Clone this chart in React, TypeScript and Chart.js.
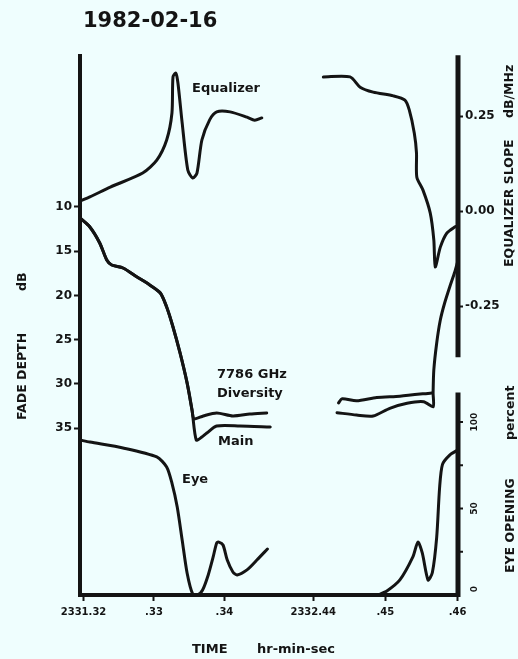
import React, { useEffect, useRef } from "react";
import { Chart, registerables } from "chart.js";

Chart.register(...registerables);

const INK = "#141414";
const PAPER = "#effefe";
const FONT = "DejaVu Sans";

const TITLE = "1982-02-16";

// Time axis (seconds); left panel is 23:31, right panel is 23:32, with a break between them.
const timeTicks = [32, 33, 34, 44, 45, 46];
const timeTickLabels = ["2331.32", ".33", ".34", "2332.44", ".45", ".46"];

const fadeTicks = [10, 15, 20, 25, 30, 35];
const slopeTicks = [0.25, 0, -0.25];
const eyeTicks = [0, 25, 50, 75, 100];
const eyeTickLabels = ["0", "", "50", "", "100"];

// Equalizer slope, dB/MHz
const eqLeftT = [31.95, 32.09, 32.38, 32.84, 33.04, 33.18, 33.255, 33.27, 33.31, 33.34, 33.4, 33.48, 33.55, 33.61, 33.68, 33.79, 33.89, 34.08, 34.32, 34.43, 34.53];
const eqLeftV = [0.026, 0.037, 0.063, 0.1, 0.134, 0.187, 0.258, 0.353, 0.363, 0.337, 0.232, 0.108, 0.087, 0.1, 0.187, 0.24, 0.261, 0.261, 0.247, 0.239, 0.245];
const eqRightT = [44.14, 44.51, 44.65, 44.83, 45.11, 45.27, 45.33, 45.4, 45.43, 45.435, 45.52, 45.62, 45.67, 45.69, 45.76, 45.85, 45.96, 46.0];
const eqRightV = [0.353, 0.353, 0.326, 0.313, 0.303, 0.292, 0.266, 0.205, 0.153, 0.089, 0.055, -0.005, -0.076, -0.147, -0.095, -0.058, -0.042, -0.039];

// Fade depth, dB — both receivers share the initial descent
const fadeDropT = [31.95, 32.09, 32.23, 32.33, 32.4, 32.56, 32.76, 32.94, 33.09, 33.18, 33.27, 33.37, 33.47, 33.54];
const fadeDropV = [11.24, 12.26, 14.07, 16.0, 16.56, 16.9, 17.92, 18.82, 19.73, 21.31, 23.57, 26.51, 29.9, 32.96];
const divLeftT = [33.57, 33.7, 33.89, 34.12, 34.36, 34.6];
const divLeftV = [33.97, 33.64, 33.3, 33.64, 33.42, 33.3];
const mainLeftT = [33.6, 33.68, 33.75, 33.89, 34.22, 34.65];
const mainLeftV = [36.36, 36.02, 35.57, 34.77, 34.77, 34.89];
const divRightT = [44.35, 44.4, 44.6, 44.88, 45.2, 45.64];
const divRightV = [32.16, 31.7, 31.93, 31.55, 31.4, 31.03];
const mainRightT = [44.33, 44.6, 44.83, 45.06, 45.3, 45.53, 45.66, 45.66, 45.67, 45.71, 45.76, 45.82, 45.89, 45.96, 46.0];
const mainRightV = [33.27, 33.53, 33.64, 32.77, 32.2, 32.03, 32.6, 31.04, 28.44, 25.38, 22.78, 20.86, 19.05, 17.35, 16.2];

// Eye opening, percent
const eyeLeftT = [31.95, 32.09, 32.56, 33.04, 33.18, 33.255, 33.33, 33.4, 33.47, 33.55, 33.62, 33.69, 33.77, 33.84, 33.89, 33.92, 33.98, 34.04, 34.12, 34.18, 34.32, 34.46, 34.61];
const eyeLeftV = [89.6, 88.4, 85.0, 79.8, 74.0, 64.7, 50.9, 31.8, 12.7, 0.5, 0, 2.9, 11.6, 22.0, 30.1, 30.6, 28.9, 20.2, 13.3, 11.6, 14.5, 20.2, 26.6];
const eyeRightT = [44.9, 45.02, 45.2, 45.38, 45.45, 45.51, 45.59, 45.65, 45.71, 45.75, 45.79, 45.89, 46.0];
const eyeRightV = [0, 2.3, 8.7, 22.0, 30.6, 24.3, 8.7, 13.0, 33.5, 62.0, 75.5, 80.9, 83.8];

// Broken time axis: seconds -> position along the drawn axis
const toAxis = (t: number) => (t < 40 ? t - 32 : 3.26 + (t - 44) * 1.025);

const pts = (ts: number[], vs: number[]) => ts.map((t, i) => ({ x: toAxis(t), y: vs[i] }));

const line = (data: { x: number; y: number }[], yAxisID: string) => ({
  data,
  yAxisID,
  borderColor: INK,
  borderWidth: 3,
  pointRadius: 0,
  tension: 0.25,
  fill: false,
  borderCapStyle: "round" as const,
  borderJoinStyle: "round" as const,
});

const decor = {
  id: "decor",
  beforeDraw(chart: any) {
    const { ctx, width, height } = chart;
    ctx.save();
    ctx.fillStyle = PAPER;
    ctx.fillRect(0, 0, width, height);
    ctx.restore();
  },
  afterDraw(chart: any) {
    const { ctx, chartArea, scales } = chart;
    const xr = chartArea.right;
    ctx.save();
    ctx.strokeStyle = INK;
    ctx.fillStyle = INK;

    // right-hand axis, split into the slope part and the eye-opening part
    ctx.lineWidth = 5;
    ctx.beginPath();
    ctx.moveTo(xr, scales.eq.getPixelForValue(0.41));
    ctx.lineTo(xr, scales.eq.getPixelForValue(-0.385));
    ctx.moveTo(xr, scales.eye.getPixelForValue(117));
    ctx.lineTo(xr, scales.eye.getPixelForValue(0) + 2);
    ctx.stroke();

    ctx.lineWidth = 2;
    ctx.font = `bold 9px ${FONT}`;
    ctx.textAlign = "center";
    ctx.textBaseline = "middle";
    eyeTicks.forEach((v, i) => {
      const y = scales.eye.getPixelForValue(v);
      if (v > 0) {
        ctx.beginPath();
        ctx.moveTo(xr, y);
        ctx.lineTo(xr + 5, y);
        ctx.stroke();
      }
      const lbl = eyeTickLabels[i];
      if (lbl) {
        ctx.save();
        ctx.translate(475, v === 0 ? y - 6 : y);
        ctx.rotate(-Math.PI / 2);
        ctx.fillText(lbl, 0, 0);
        ctx.restore();
      }
    });

    // title
    ctx.textAlign = "left";
    ctx.textBaseline = "alphabetic";
    ctx.font = `bold 21px ${FONT}`;
    ctx.fillText(TITLE, 83, 27);

    // curve captions
    ctx.font = `bold 13px ${FONT}`;
    ctx.fillText("Equalizer", 192, 92);
    ctx.fillText("7786 GHz", 217, 378);
    ctx.fillText("Diversity", 217, 397);
    ctx.fillText("Main", 218, 445);
    ctx.fillText("Eye", 182, 483);

    // time axis title
    ctx.fillText("TIME", 192, 653);
    ctx.fillText("hr-min-sec", 257, 653);

    // vertical axis titles (read bottom to top)
    const vtext = (s: string, x: number, y: number) => {
      ctx.save();
      ctx.translate(x, y);
      ctx.rotate(-Math.PI / 2);
      ctx.fillText(s, 0, 0);
      ctx.restore();
    };
    ctx.font = `bold 12.5px ${FONT}`;
    vtext("FADE DEPTH", 26, 420);
    vtext("dB", 26, 291);
    vtext("EQUALIZER SLOPE", 513, 267);
    vtext("dB/MHz", 513, 118);
    vtext("EYE OPENING", 514, 573);
    vtext("percent", 514, 440);
    ctx.restore();
  },
};

export default function App() {
  const ref = useRef<HTMLCanvasElement | null>(null);

  useEffect(() => {
    if (!ref.current) return;
    const tickFont = { family: FONT, size: 12, weight: "bold" as const };
    const chart = new Chart(ref.current, {
      type: "line",
      data: {
        datasets: [
          line(pts(eqLeftT, eqLeftV), "eq"),
          line(pts(eqRightT, eqRightV), "eq"),
          line(pts(fadeDropT.concat(divLeftT), fadeDropV.concat(divLeftV)), "fade"),
          line(pts(fadeDropT.concat(mainLeftT), fadeDropV.concat(mainLeftV)), "fade"),
          line(pts(divRightT, divRightV), "fade"),
          line(pts(mainRightT, mainRightV), "fade"),
          line(pts(eyeLeftT, eyeLeftV), "eye"),
          line(pts(eyeRightT, eyeRightV), "eye"),
        ],
      },
      options: {
        responsive: false,
        maintainAspectRatio: false,
        animation: false,
        devicePixelRatio: 1,
        layout: { padding: { top: 56, left: 0, right: 0, bottom: 0 } },
        plugins: { legend: { display: false }, tooltip: { enabled: false }, title: { display: false } },
        scales: {
          x: {
            type: "linear",
            min: -0.05,
            max: 5.315,
            afterBuildTicks: (s: any) => {
              s.ticks = timeTicks.map((t) => ({ value: toAxis(t) }));
            },
            ticks: {
              autoSkip: false,
              maxRotation: 0,
              minRotation: 0,
              padding: 5,
              color: INK,
              font: { family: FONT, size: 10, weight: "bold" },
              callback: (_v: any, i: number) => timeTickLabels[i],
            },
            grid: { drawOnChartArea: false, drawTicks: true, tickLength: 6, tickWidth: 2, tickColor: INK },
            border: { display: true, color: INK, width: 4 },
            afterFit: (s: any) => {
              s.height = 64;
            },
          },
          fade: {
            type: "linear",
            position: "left",
            reverse: true,
            min: -7.08,
            max: 53.89,
            afterBuildTicks: (s: any) => {
              s.ticks = fadeTicks.map((v) => ({ value: v }));
            },
            ticks: { color: INK, font: tickFont, padding: 2, callback: (v: any) => String(v) },
            grid: { drawOnChartArea: false, drawTicks: true, tickLength: 6, tickWidth: 2, tickColor: INK },
            border: { display: true, color: INK, width: 4 },
            afterFit: (s: any) => {
              s.width = 80;
            },
          },
          eq: {
            type: "linear",
            position: "right",
            min: -1.0105,
            max: 0.408,
            afterBuildTicks: (s: any) => {
              s.ticks = slopeTicks.map((v) => ({ value: v }));
            },
            ticks: { color: INK, font: tickFont, padding: 2, callback: (v: any) => Number(v).toFixed(2) },
            grid: { drawOnChartArea: false, drawTicks: true, tickLength: 5, tickWidth: 2, tickColor: INK },
            border: { display: false },
            afterFit: (s: any) => {
              s.width = 60;
            },
          },
          eye: {
            type: "linear",
            position: "right",
            display: false,
            min: 0,
            max: 311.6,
            afterFit: (s: any) => {
              s.width = 0;
            },
          },
        },
      },
      plugins: [decor],
    } as any);
    return () => chart.destroy();
  }, []);

  return (
    <div style={{ position: "fixed", left: 0, top: 0, width: 518, height: 659, background: PAPER }}>
      <canvas ref={ref} width={518} height={659} style={{ display: "block", width: 518, height: 659 }} />
    </div>
  );
}
